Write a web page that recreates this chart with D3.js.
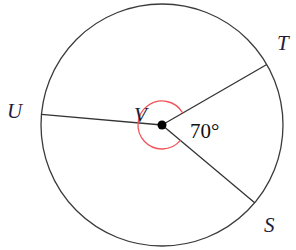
<!DOCTYPE html>
<html><head><meta charset="utf-8">
<script src="https://cdn.jsdelivr.net/npm/d3@7"></script>
<style>html,body{margin:0;padding:0;background:#fff;}svg{display:block;}</style>
</head><body>
<script>
// Data
const rayLabels = ["T", "S", "U"];
const rayAngles = [30, -40, 175];           // degrees, counter-clockwise from east
const centralAngleLabel = "70°";
const centerLabel = "V";

const W = 296, H = 250;
const cx = 162, cy = 125, R = 121;
const svg = d3.select("body").append("svg").attr("width", W).attr("height", H);

const x = d3.scaleLinear().domain([-1, 1]).range([cx - R, cx + R]);
const y = d3.scaleLinear().domain([-1, 1]).range([cy + R, cy - R]);
const rad = d => d * Math.PI / 180;

svg.append("circle").attr("cx", cx).attr("cy", cy).attr("r", R)
  .attr("fill", "none").attr("stroke", "#3a3a3a").attr("stroke-width", 1.3);

svg.selectAll("line.ray").data(rayAngles).join("line").attr("class", "ray")
  .attr("x1", cx).attr("y1", cy)
  .attr("x2", d => x(Math.cos(rad(d)))).attr("y2", d => y(Math.sin(rad(d))))
  .attr("stroke", "#333").attr("stroke-width", 1.3);

// red reflex-angle arc from T ray round to S ray
const arc = d3.arc().innerRadius(24).outerRadius(24)
  .startAngle(rad(90 - rayAngles[0])).endAngle(rad(90 - rayAngles[1]) - 2 * Math.PI);
svg.append("path").attr("d", arc()).attr("transform", `translate(${cx},${cy})`)
  .attr("fill", "none").attr("stroke", "#f0555a").attr("stroke-width", 1.3);

svg.append("circle").attr("cx", cx).attr("cy", cy).attr("r", 4.5).attr("fill", "#000");

const labelPos = {T: [277, 50], S: [264, 232], U: [7, 118]};
svg.selectAll("text.pt").data(rayLabels).join("text").attr("class", "pt")
  .attr("x", d => labelPos[d][0]).attr("y", d => labelPos[d][1])
  .attr("font-family", "Liberation Serif, DejaVu Serif, serif").attr("font-style", "italic")
  .attr("font-size", 21).attr("fill", "#1c1c3a").text(d => d);

svg.append("text").attr("x", 134).attr("y", 122)
  .attr("font-family", "Liberation Serif, serif").attr("font-style", "italic")
  .attr("font-size", 21).attr("fill", "#1c1c3a").text(centerLabel);

svg.append("text").attr("x", 190).attr("y", 138)
  .attr("font-family", "Liberation Serif, serif")
  .attr("font-size", 21).attr("fill", "#111").text(centralAngleLabel);
</script>
</body></html>
